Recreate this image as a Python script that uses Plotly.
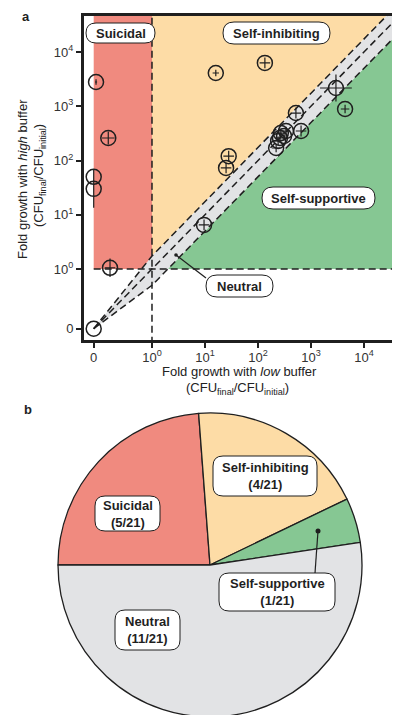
import numpy as np
import plotly.graph_objects as go

W, H = 400, 715

# ---------------- data (fold growth, CFU_final / CFU_initial) ----------------
group = (["Suicidal"] * 5 + ["Self-inhibiting"] * 4 + ["Self-supportive"] * 1 + ["Neutral"] * 11)
low_buffer = [0.04, 0.25, 0, 0, 0.28,
              16, 135, 28, 25,
              4400,
              0, 9.6, 2960, 520, 650, 338, 270, 260, 220, 310, 240]
high_buffer = [2800, 260, 50, 30, 1.05,
               4100, 6300, 120, 73,
               890,
               0, 6.5, 2170, 750, 350, 350, 320, 260, 170, 283, 230]
# error (half-width) in decades
err_low = [0.02, 0.12, 0.0, 0.0, 0.10,
           0.06, 0.10, 0.10, 0.10,
           0.08,
           0.0, 0.10, 0.30, 0.10, 0.10, 0.08, 0.08, 0.08, 0.08, 0.08, 0.08]
err_high = [0.05, 0.12, 0.0, 0.35, 0.17,
            0.06, 0.10, 0.10, 0.10,
            0.08,
            0.0, 0.10, 0.25, 0.10, 0.10, 0.08, 0.08, 0.08, 0.08, 0.08, 0.08]

tick_values = [0, 1, 10, 100, 1000, 10000]
tick_labels = ["0", "10<sup>0</sup>", "10<sup>1</sup>", "10<sup>2</sup>", "10<sup>3</sup>", "10<sup>4</sup>"]

pie_categories = ["Suicidal", "Self-inhibiting", "Self-supportive", "Neutral"]
pie_counts = [5, 4, 1, 11]
total = sum(pie_counts)

# classification thresholds (decades around the diagonal)
UP = 0.24   # upper edge of neutral band
LO = 0.30   # lower edge of neutral band

RED = "#F08A7F"
ORANGE = "#FDDCA6"
GREEN = "#86C793"
GRAY = "#E2E3E5"
INK = "#1f1f1f"

# symlog-like transform: 0 -> T0, 1 -> 0, log10 above 1
T0 = -1.1


def tr(v):
    v = np.asarray(v, float)
    return np.where(v >= 1, np.log10(np.maximum(v, 1)), T0 * (1 - v))


fig = go.Figure()

BIG = 10


def poly(xs, ys, color):
    fig.add_trace(go.Scatter(x=xs, y=ys, mode="lines", fill="toself", fillcolor=color,
                             line=dict(width=0), hoverinfo="skip", showlegend=False))


# regions
poly([T0, 0, 0, T0], [0, 0, BIG, BIG], RED)
poly([0, 0, BIG - UP], [UP, BIG, BIG], ORANGE)
poly([LO, BIG, BIG], [0, 0, BIG - LO], GREEN)
poly([T0, 0, BIG, BIG, 0], [T0, UP, BIG + UP, BIG - LO, -LO], GRAY)


def dline(xs, ys):
    fig.add_trace(go.Scatter(x=xs, y=ys, mode="lines", line=dict(color=INK, width=1.5, dash="7px,4px"),
                             hoverinfo="skip", showlegend=False))


dline([0, 0], [-3, BIG])
dline([T0, BIG], [0, 0])
dline([T0, BIG], [T0, BIG])
dline([T0, 0, BIG], [T0, UP, BIG + UP])
dline([T0, 0, BIG], [T0, -LO, BIG - LO])

# data points
fig.add_trace(go.Scatter(
    x=tr(low_buffer), y=tr(high_buffer), mode="markers",
    marker=dict(symbol="circle-open", size=15, color=INK, line=dict(width=1.5, color=INK)),
    error_x=dict(type="data", array=err_low, color=INK, thickness=1.2, width=0),
    error_y=dict(type="data", array=err_high, color=INK, thickness=1.2, width=0),
    text=group, hoverinfo="text", showlegend=False))

# pie
fig.add_trace(go.Pie(
    labels=pie_categories, values=pie_counts, sort=False, direction="clockwise", rotation=-90,
    marker=dict(colors=[RED, ORANGE, GREEN, GRAY], line=dict(color=INK, width=1.3)),
    textinfo="none", hoverinfo="label+value", showlegend=False,
    domain=dict(x=[50 / W, 354 / W], y=[1 - 709 / H, 1 - 405 / H])))

# axes
px_l, px_r, px_t, px_b = 76, 392, 7.5, 332
axis_common = dict(showgrid=False, zeroline=False, showline=True, mirror=True, linecolor=INK,
                   linewidth=3, ticks="outside", ticklen=5, tickwidth=1.5, tickcolor=INK,
                   tickvals=list(tr(tick_values)), ticktext=tick_labels,
                   tickfont=dict(family="Liberation Sans", size=13, color="#333"))
fig.update_layout(
    width=W, height=H, margin=dict(l=0, r=0, t=0, b=0),
    paper_bgcolor="white", plot_bgcolor="white", showlegend=False,
    xaxis=dict(domain=[px_l / W, px_r / W], range=[-1.283, 4.68], ticklabelstandoff=-2, **axis_common),
    yaxis=dict(domain=[1 - px_b / H, 1 - px_t / H], range=[-1.309, 4.673], **axis_common),
)


def X(x):
    return x / W


def Y(y):
    return 1 - y / H


def rbox(x0, y0, x1, y1, r):
    rx = r
    p = (f"M {X(x0 + rx)},{Y(y0)} L {X(x1 - rx)},{Y(y0)} Q {X(x1)},{Y(y0)} {X(x1)},{Y(y0 + r)} "
         f"L {X(x1)},{Y(y1 - r)} Q {X(x1)},{Y(y1)} {X(x1 - rx)},{Y(y1)} "
         f"L {X(x0 + rx)},{Y(y1)} Q {X(x0)},{Y(y1)} {X(x0)},{Y(y1 - r)} "
         f"L {X(x0)},{Y(y0 + r)} Q {X(x0)},{Y(y0)} {X(x0 + rx)},{Y(y0)} Z")
    fig.add_shape(type="path", path=p, xref="paper", yref="paper", fillcolor="white",
                  line=dict(color=INK, width=1), layer="above")


def seg(x0, y0, x1, y1):
    fig.add_shape(type="line", xref="paper", yref="paper", x0=X(x0), y0=Y(y0), x1=X(x1), y1=Y(y1),
                  line=dict(color=INK, width=1.2), layer="above")


def dot(x, y, r=2.2):
    fig.add_shape(type="circle", xref="paper", yref="paper", x0=X(x - r), x1=X(x + r), y0=Y(y - r), y1=Y(y + r),
                  fillcolor=INK, line=dict(color=INK, width=0), layer="above")


def ann(text, x, y, size=13, angle=0, color=INK):
    fig.add_annotation(text=text, x=X(x), y=Y(y), xref="paper", yref="paper", showarrow=False,
                       xanchor="center", yanchor="middle", textangle=angle,
                       font=dict(family="Liberation Sans", size=size, color=color))


# scatter labels
rbox(78, 15, 147, 35, 10)
ann("<b>Suicidal</b>", 112.5, 25)
rbox(215, 14, 322, 36, 11)
ann("<b>Self-inhibiting</b>", 268.5, 25)
rbox(254, 179, 367, 201, 11)
ann("<b>Self-supportive</b>", 310.5, 190)
seg(168, 247, 198, 270)
dot(168, 247, 1.8)
rbox(198, 267, 265, 289, 11)
ann("<b>Neutral</b>", 231.5, 278)

# pie labels
seg(310, 523, 307, 565)
dot(310, 523, 2.5)
rbox(87, 488, 152, 523, 10)
ann(f"<b>{pie_categories[0]}<br>({pie_counts[0]}/{total})</b>", 119.5, 505.5)
rbox(205, 448, 309, 488, 10)
ann(f"<b>{pie_categories[1]}<br>({pie_counts[1]}/{total})</b>", 257, 468)
rbox(211, 565, 327, 603, 10)
ann(f"<b>{pie_categories[2]}<br>({pie_counts[2]}/{total})</b>", 269, 584)
rbox(107, 602, 172, 642, 10)
ann(f"<b>{pie_categories[3]}<br>({pie_counts[3]}/{total})</b>", 139.5, 622)

# axis titles
ann("Fold growth with <i>low</i> buffer", 232, 364, size=13, color="#222")
ann("(CFU<sub>final</sub>/CFU<sub>initial</sub>)", 229, 380, size=13, color="#222")
ann("Fold growth with <i>high</i> buffer", 14, 171, size=13, angle=-90, color="#222")
ann("(CFU<sub>final</sub>/CFU<sub>initial</sub>)", 31, 168, size=13, angle=-90, color="#222")

# panel letters
ann("<b>a</b>", 18, 8, size=13)
ann("<b>b</b>", 20, 401, size=13)

fig.write_html("out.html")
